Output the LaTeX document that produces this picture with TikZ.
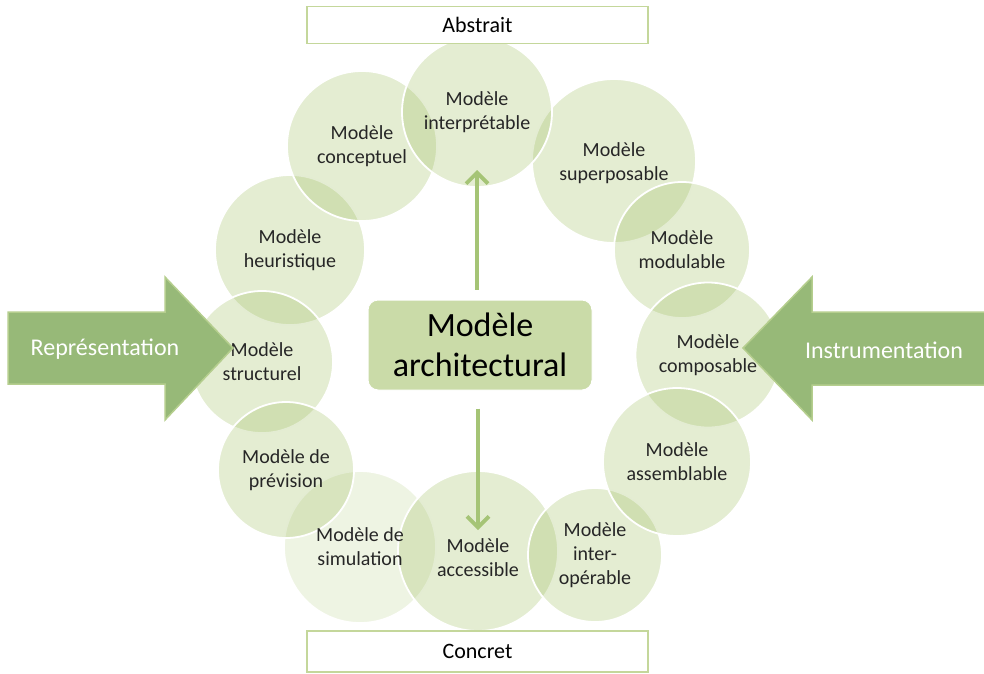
\documentclass[tikz,border=0pt]{standalone}
\usepackage{fontspec}
\setmainfont{Carlito}
\usetikzlibrary{arrows.meta,positioning}
\definecolor{ringgreen}{HTML}{9BBB59}
\definecolor{fatgreen}{HTML}{97B978}
\definecolor{fatedge}{HTML}{B5CE8E}
\definecolor{archfill}{HTML}{CADBA8}
\definecolor{stemgreen}{HTML}{A5C476}
\definecolor{tagedge}{HTML}{C4D79B}
\tikzset{
  ring/.style={circle,fill=ringgreen,fill opacity=0.27,draw=white,
    line width=1.8pt,inner sep=0pt},
  ringtext/.style={align=center,inner sep=0pt,text=black!85,
    font=\fontsize{20}{24}\selectfont},
  tag/.style={rectangle,draw=tagedge,fill=white,line width=1.2pt,
    minimum width=341pt,minimum height=37pt,font=\fontsize{22}{26}\selectfont},
  archbox/.style={rectangle,rounded corners=10pt,fill=archfill,draw=white,line width=1pt,
    align=center,minimum width=224pt,minimum height=90pt,
    font=\fontsize{34}{40}\selectfont},
  stem/.style={draw=stemgreen,line width=3.8pt,-{Straight Barb[length=11pt,width=22pt]}},
  fat/.style={fill=fatgreen,draw=fatedge,line width=1.5pt,line join=miter},
  fatlabel/.style={text=white,font=\fontsize{24}{28}\selectfont}
}

\begin{document}
\begin{tikzpicture}[x=1pt,y=-1pt]
\useasboundingbox (0,0) rectangle (984,673);
% the ring of models, back to front
\node[ring,fill opacity=0.17,minimum size=152pt] (simul) at (360,547) {};
\node[ring,minimum size=150pt] (heur) at (290,250) {};
\node[ring,minimum size=150pt] (concep) at (362,146) {};
\node[ring,minimum size=164pt] (superp) at (614,161) {};
\node[ring,minimum size=150pt] (interp) at (477,112) {};
\node[ring,minimum size=136pt] (modul) at (682,250) {};
\node[ring,minimum size=145pt] (compo) at (708,355) {};
\node[ring,minimum size=160pt] (access) at (478,551) {};
\node[ring,minimum size=134pt] (interop) at (595,555) {};
\node[ring,minimum size=148pt] (assemb) at (677,462) {};
\node[ring,minimum size=142pt] (struct) at (262,362) {};
\node[ring,minimum size=136pt] (prev) at (286,470) {};
% their names
\node[ringtext] (simulT) at (simul) {Modèle de\\simulation};
\node[ringtext] (heurT) at (heur) {Modèle\\heuristique};
\node[ringtext] (concepT) at (concep) {Modèle\\conceptuel};
\node[ringtext] (superpT) at ([yshift=-2pt]superp.center) {Modèle\\superposable};
\node[ringtext] (interpT) at (interp) {Modèle\\interprétable};
\node[ringtext] (modulT) at (modul) {Modèle\\modulable};
\node[ringtext] (compoT) at (compo) {Modèle\\composable};
\node[ringtext] (accessT) at ([yshift=-7pt]access.center) {Modèle\\accessible};
\node[ringtext] (interopT) at (interop) {Modèle\\inter-\\opérable};
\node[ringtext] (assembT) at (assemb) {Modèle\\assemblable};
\node[ringtext] (structT) at (struct) {Modèle\\structurel};
\node[ringtext] (prevT) at (prev) {Modèle de\\prévision};
% top and bottom labels
\node[tag] (abstr) at (477.5,25) {Abstrait};
\node[tag,minimum height=41pt] (concr) at (477.5,651.5) {Concret};
% centre
\node[archbox] (arch) at (480,345) {Modèle\\architectural};
\draw[stem,shorten <=10pt,shorten >=58pt] (interp.center |- arch.north) -- (interp.center);
\draw[stem,shorten <=18pt,shorten >=21pt] (access.center |- arch.south) -- (access.center);
% side arrows
\draw[fat] (8,312) -- (165,312) -- (165,277) -- (233,348) -- (165,420) -- (165,384) -- (8,384) -- cycle;
\node[fatlabel] (repr) at (105,349) {Représentation};
\draw[fat] (990,312) -- (812,312) -- (812,277) -- (743,348) -- (812,420) -- (812,385) -- (990,385);
\node[fatlabel] (instr) at (884,350) {Instrumentation};
\end{tikzpicture}
\end{document}
